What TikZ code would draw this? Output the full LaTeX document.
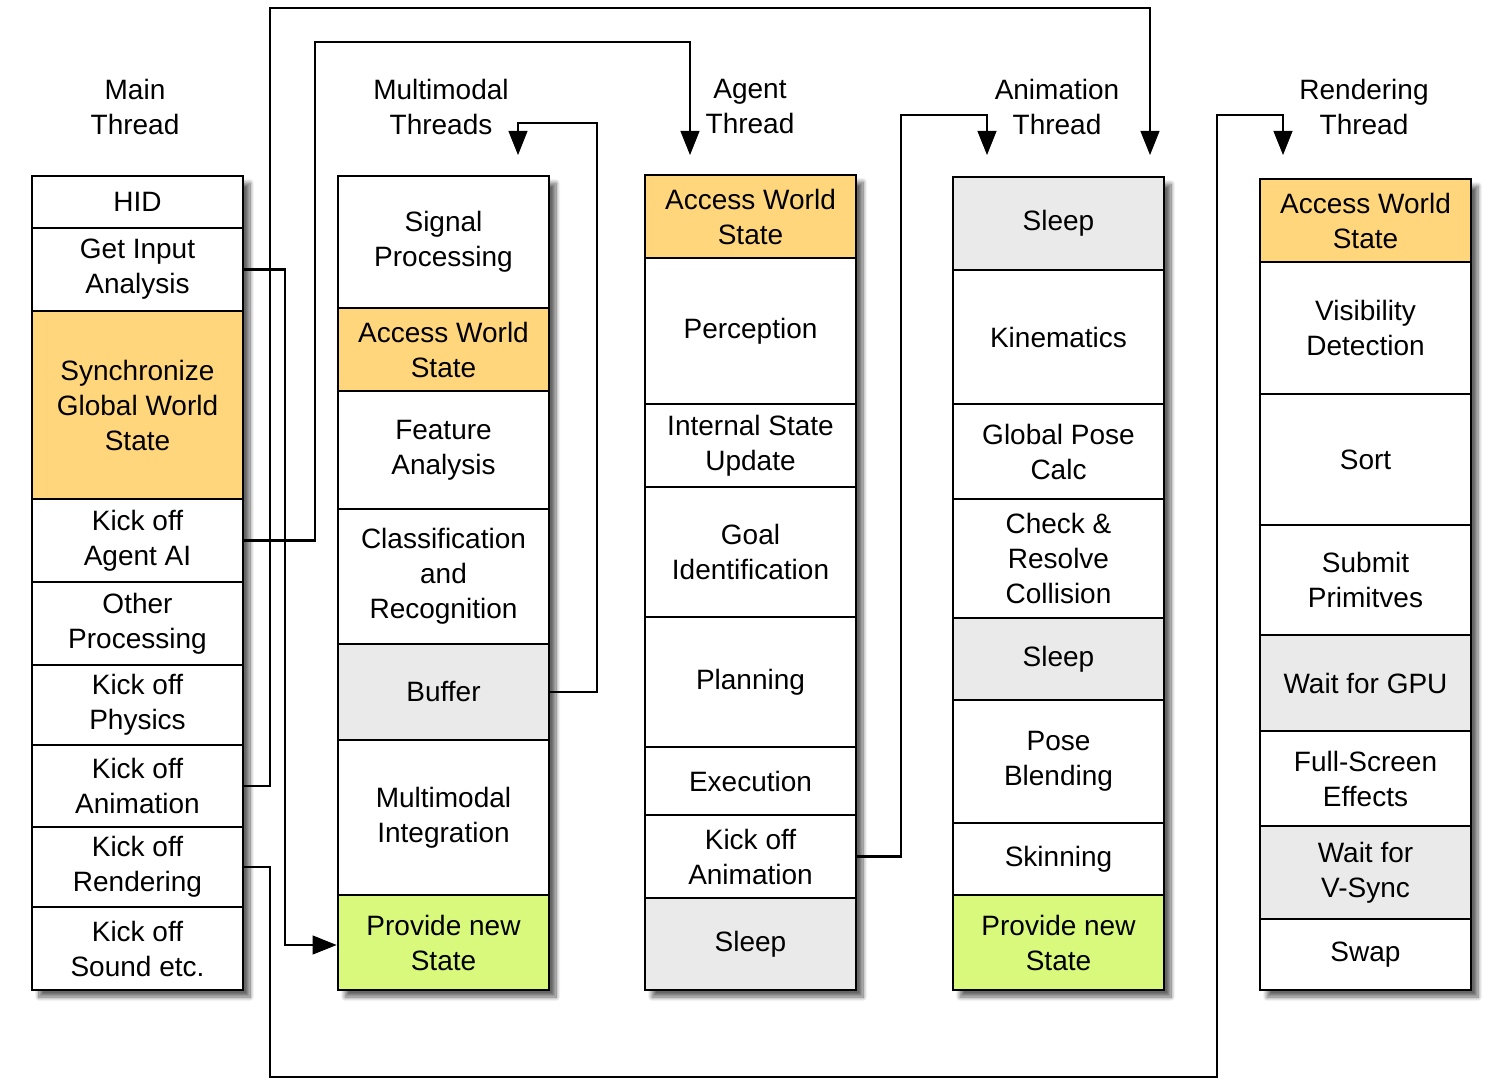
\documentclass[tikz,border=0pt]{standalone}
\usepackage{tikz}
\usepackage{xcolor}
\usepackage{fontspec}
\setmainfont{Liberation Sans}
\usetikzlibrary{arrows.meta, shadows.blur}

\definecolor{worldorange}{HTML}{FFD67C}
\definecolor{stategreen}{HTML}{D8F97C}
\definecolor{sleepgray}{HTML}{EAEAEA}

\tikzset{
	cell/.style={draw, line width=1.4pt, minimum width=105.5pt, inner sep=0pt, align=center,
		font=\fontsize{14}{17.5}\selectfont},
	threadhead/.style={align=center, font=\fontsize{14}{17.5}\selectfont},
	link/.style={line width=1.1pt, -{Triangle[length=12pt, width=9.5pt, fill=black, line width=0.5pt]}},
	colshadow/.style={blur shadow={shadow xshift=3.5pt, shadow yshift=-3.5pt, shadow blur steps=10, shadow opacity=60}}
}

\begin{document}
\begin{tikzpicture}[x=0.5pt, y=-0.5pt]

	\useasboundingbox (0,0) rectangle (1500,1081);

	% thread titles
	\node[threadhead] (mainhead) at (135,107) {Main\\Thread};
	\node[threadhead] (mmhead) at (441,107) {Multimodal\\Threads};
	\node[threadhead] (agenthead) at (750,107) {Agent\\Thread};
	\node[threadhead] (animhead) at (1057,107) {Animation\\Thread};
	\node[threadhead] (rendhead) at (1364,107) {Rendering\\Thread};

	% column shadows
	\foreach \cx/\ctop in {32/176, 338/176, 645/175, 953/177, 1260/179}
	{
		\path[fill=white, colshadow] (\cx,\ctop) rectangle (\cx+211,990);
	}

	% main thread
	\foreach \nm/\top/\bot/\col/\txt in {
		hid/176/228/white/{HID},
		input/228/311/white/{Get Input\\Analysis},
		sync/311/499/worldorange/{Synchronize\\Global World\\State},
		agentko/499/582/white/{Kick off\\Agent AI},
		other/582/665/white/{Other\\Processing},
		physko/665/745/white/{Kick off\\Physics},
		animko/745/827/white/{Kick off\\Animation},
		rendko/827/907/white/{Kick off\\Rendering},
		sound/907/990/white/{Kick off\\Sound etc.}}
	{
		\node[cell, fill=\col, minimum height={(\bot-\top)*0.5pt}] (\nm) at (137.5,{(\top+\bot)/2}) {\txt};
	}

	% multimodal threads
	\foreach \nm/\top/\bot/\col/\txt in {
		signal/176/308/white/{Signal\\Processing},
		mmaccess/308/391/worldorange/{Access World\\State},
		feature/391/509/white/{Feature\\Analysis},
		classif/509/644/white/{Classification\\and\\Recognition},
		buffer/644/740/sleepgray/{Buffer},
		integr/740/895/white/{Multimodal\\Integration},
		mmprovide/895/990/stategreen/{Provide new\\State}}
	{
		\node[cell, fill=\col, minimum height={(\bot-\top)*0.5pt}] (\nm) at (443.5,{(\top+\bot)/2}) {\txt};
	}

	% agent thread
	\foreach \nm/\top/\bot/\col/\txt in {
		agaccess/175/258/worldorange/{Access World\\State},
		percept/258/404/white/{Perception},
		internal/404/487/white/{Internal State\\Update},
		goal/487/617/white/{Goal\\Identification},
		plan/617/747/white/{Planning},
		exec/747/815/white/{Execution},
		agentanim/815/898/white/{Kick off\\Animation},
		agsleep/898/990/sleepgray/{Sleep}}
	{
		\node[cell, fill=\col, minimum height={(\bot-\top)*0.5pt}] (\nm) at (750.5,{(\top+\bot)/2}) {\txt};
	}

	% animation thread
	\foreach \nm/\top/\bot/\col/\txt in {
		ansleepa/177/270/sleepgray/{Sleep},
		kinem/270/404/white/{Kinematics},
		pose/404/499/white/{Global Pose\\Calc},
		collide/499/618/white/{Check \&\\Resolve\\Collision},
		ansleepb/618/700/sleepgray/{Sleep},
		blend/700/823/white/{Pose\\Blending},
		skin/823/895/white/{Skinning},
		anprovide/895/990/stategreen/{Provide new\\State}}
	{
		\node[cell, fill=\col, minimum height={(\bot-\top)*0.5pt}] (\nm) at (1058.5,{(\top+\bot)/2}) {\txt};
	}

	% rendering thread
	\foreach \nm/\top/\bot/\col/\txt in {
		rdaccess/179/262/worldorange/{Access World\\State},
		visib/262/394/white/{Visibility\\Detection},
		sort/394/525/white/{Sort},
		submit/525/635/white/{Submit\\Primitves},
		gpu/635/731/sleepgray/{Wait for GPU},
		fx/731/826/white/{Full-Screen\\Effects},
		vsync/826/919/sleepgray/{Wait for\\V-Sync},
		swap/919/990/white/{Swap}}
	{
		\node[cell, fill=\col, minimum height={(\bot-\top)*0.5pt}] (\nm) at (1365.5,{(\top+\bot)/2}) {\txt};
	}

	% arrow ends above the columns
	\coordinate (mmin) at (518,155);
	\coordinate (agin) at (690,155);
	\coordinate (aninb) at (987,155);
	\coordinate (anina) at (1150,155);
	\coordinate (rendin) at (1283,155);

	% kick-off links
	\draw[link] (input.east) -| (285,945) -- (mmprovide.west |- 0,945);
	\draw[link] (agentko.east) -| (315,42) -| (agin);
	\draw[link] (animko.east) -| (270,8) -| (anina);
	\draw[link] (rendko.east) -| (270,1077) -| (1217,115) -| (rendin);
	\draw[link] (buffer.east) -| (597,123) -| (mmin);
	\draw[link] (agentanim.east) -| (901,115) -| (aninb);

\end{tikzpicture}
\end{document}
